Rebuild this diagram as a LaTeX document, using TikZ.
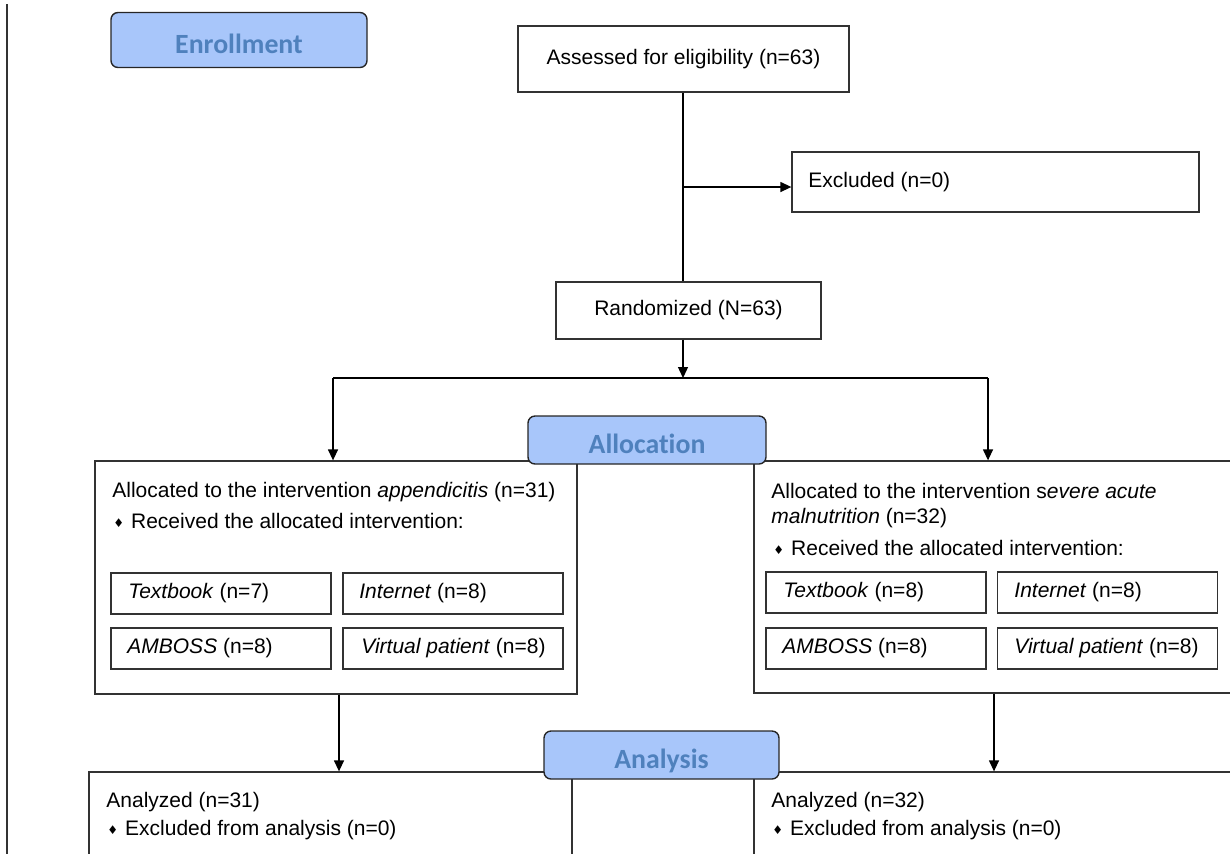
\documentclass[tikz,border=0pt]{standalone}
\usepackage{fontspec}
\setmainfont{Liberation Sans}
\newfontfamily\phasefont[Ligatures=NoCommon]{Carlito}
\newfontfamily\symfont{DejaVu Sans}
\usetikzlibrary{arrows.meta}
\definecolor{phasefill}{RGB}{168,198,250}
\definecolor{phasetext}{RGB}{79,129,189}
\definecolor{boxline}{RGB}{50,50,50}
\newcommand{\bul}{{\symfont\fontsize{6}{6}\selectfont\raisebox{0.6pt}{♦}}\hspace{3.5pt}}

\begin{document}
\begin{tikzpicture}[x=0.5pt,y=-0.5pt,
  box/.style={draw=boxline,line width=0.65pt,inner sep=0pt,fill=white},
  phase/.style={draw=black!85,line width=0.7pt,rounded corners=3.5pt,fill=phasefill,
    text=phasetext,font=\phasefont\bfseries\fontsize{13.9}{16}\selectfont,
    minimum width=#1,minimum height=24pt,inner sep=0pt,text height=13.5pt,text depth=0pt},
  sub/.style={box,minimum width=110pt,minimum height=20.5pt},
  txt/.style={anchor=west,inner sep=0pt,font=\fontsize{10.5}{12.6}\selectfont},
  arr/.style={draw=black,line width=0.65pt,-{Triangle[length=5.5pt,width=5pt]}}]
\useasboundingbox (0,0) rectangle (1230,853);
\clip (0,0) rectangle (1230,853);

\draw[line width=0.7pt,black!80] (7,4) -- (7,860);

\node[phase=128pt,minimum height=27.5pt] (enroll) at (239,40) {Enrollment};

\node[box,minimum width=165.5pt,minimum height=33pt,font=\fontsize{10.5}{12.6}\selectfont]
  (assess) at (683.5,59) {Assessed for eligibility (n=63)};
\node[box,minimum width=203.5pt,minimum height=30pt] (excl) at (995.5,182) {};
\node[txt] (excltxt) at (808,182) {Excluded (n=0)};
\node[box,minimum width=132.5pt,minimum height=28.5pt,font=\fontsize{10.5}{12.6}\selectfont]
  (rand) at (688.5,310.5) {Randomized (N=63)};

\coordinate (split) at (683,187);
\coordinate (fork) at (683,378);
\coordinate (forkL) at (333,378);
\coordinate (forkR) at (988,378);

\draw[line width=0.65pt] (assess.south -| split) -- (rand.north -| split);
\draw[arr] (split) -- (split -| excl.west);
\draw[arr] (rand.south -| fork) -- (fork);
\draw[line width=0.65pt] (forkL) -- (forkR);

\node[box,minimum width=241pt,minimum height=116.5pt] (allocL) at (336,577.5) {};
\node[box,minimum width=241pt,minimum height=116pt] (allocR) at (995,577) {};

\draw[arr] (forkL) -- (forkL |- allocL.north);
\draw[arr] (forkR) -- (forkR |- allocR.north);

\node[txt] (allocLa) at (112,492) {Allocated to the intervention \textit{appendicitis} (n=31)};
\node[txt] (allocLb) at (113,521) {\bul Received the allocated intervention:};
\node[txt] (allocRa) at (771,491) {Allocated to the intervention s\textit{evere acute}};
\node[txt] (allocRb) at (771,518) {\textit{malnutrition} (n=32)};
\node[txt] (allocRc) at (773,548) {\bul Received the allocated intervention:};

\node[sub] (textL) at (221,593.5) {};
\node[sub] (netL)  at (453,593.5) {};
\node[sub] (ambL)  at (221,648.5) {};
\node[sub] (virtL) at (453,648.5) {};
\node[sub] (textR) at (876,592.5) {};
\node[sub] (netR)  at (1107.5,592.5) {};
\node[sub] (ambR)  at (876,648.5) {};
\node[sub] (virtR) at (1107.5,648.5) {};

\node[txt] at (128,593.5)  {\textit{Textbook} (n=7)};
\node[txt] at (359,593.5)  {\textit{Internet} (n=8)};
\node[txt] at (127,648.5)  {\textit{AMBOSS} (n=8)};
\node[txt] at (361,648.5)  {\textit{Virtual patient} (n=8)};
\node[txt] at (783,592.5)  {\textit{Textbook} (n=8)};
\node[txt] at (1014,592.5) {\textit{Internet} (n=8)};
\node[txt] at (782,648.5)  {\textit{AMBOSS} (n=8)};
\node[txt] at (1014,648.5) {\textit{Virtual patient} (n=8)};

\node[box,minimum width=241.5pt,minimum height=64pt] (anaL) at (330.5,836) {};
\node[box,minimum width=241.5pt,minimum height=64pt] (anaR) at (995.5,836) {};

\draw[arr] (allocL.south -| 339,0) -- (anaL.north -| 339,0);
\draw[arr] (allocR.south -| 994,0) -- (anaR.north -| 994,0);

\node[txt] (anaLa) at (106,802) {Analyzed (n=31)};
\node[txt] (anaLb) at (107,830) {\bul Excluded from analysis (n=0)};
\node[txt] (anaRa) at (771,802) {Analyzed (n=32)};
\node[txt] (anaRb) at (772,830) {\bul Excluded from analysis (n=0)};

\node[phase=119pt] (alloc) at (647,440) {Allocation};
\node[phase=117.5pt] (analysis) at (661.5,755) {Analysis};

\end{tikzpicture}
\end{document}
